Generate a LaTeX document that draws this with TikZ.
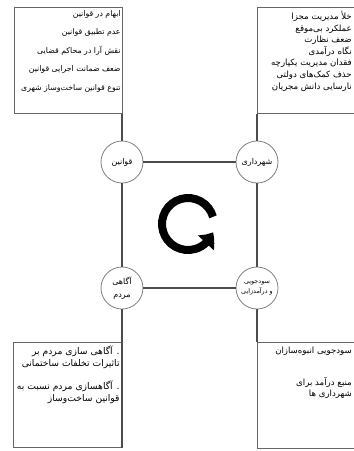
\documentclass[tikz,border=0pt]{standalone}
\usepackage{fontspec}
\newfontfamily\fa[Script=Arabic]{DejaVu Sans}
\TeXXeTstate=1
\usetikzlibrary{arrows.meta,bending}
\newcommand{\rl}[1]{\beginR #1\endR}
\tikzset{
	factor/.style={circle, draw=black!50, line width=0.8pt, fill=white,
			minimum size=42pt, inner sep=0pt, align=center,
			font=\fa\fontsize{8}{10}\selectfont},
	listbox/.style={draw=black!60, line width=0.8pt, inner sep=0pt, anchor=north west},
	listtext/.style={inner sep=0pt, align=right, anchor=north east},
	link/.style={draw=black!70, line width=1.2pt}
}

\begin{document}
\begin{tikzpicture}[x=1pt,y=-1pt]
	\clip (0,0) rectangle (354,451);
	\fill[white] (0,0) rectangle (354,451);

	% the four boxes
	\node[listbox, minimum width=108pt, minimum height=106pt] (qbox) at (14,7) {};
	\node[listbox, minimum width=150pt, minimum height=106pt] (sbox) at (257,7) {};
	\node[listbox, minimum width=109pt, minimum height=105pt] (abox) at (13,342) {};
	\node[listbox, minimum width=150pt, minimum height=106pt] (dbox) at (257,342) {};

	\node[listtext, font=\fa\fontsize{7.8}{18.5}\selectfont] (qtext) at ([shift={(-2,3)}]qbox.north east) {
		\rl{ابهام در قوانین}\\
		\rl{عدم تطبیق قوانین}\\
		\rl{نقش آرا در محاکم قضایی}\\
		\rl{ضعف ضمانت اجرایی قوانین}\\
		\rl{تنوع قوانین ساخت‌وساز شهری}};
	\node[listtext, font=\fa\fontsize{8.6}{11.6}\selectfont] (stext) at (352,11) {
		\rl{خلأ مدیریت مجزا}\\
		\rl{عملکرد بی‌موقع}\\
		\rl{ضعف نظارت}\\
		\rl{نگاه درآمدی}\\
		\rl{فقدان مدیریت یکپارچه}\\
		\rl{حذف کمک‌های دولتی}\\
		\rl{نارسایی دانش مجریان}};
	\node[listtext, font=\fa\fontsize{9.2}{12}\selectfont] (atext) at ([shift={(-3,4)}]abox.north east) {
		\rl{. آگاهی سازی مردم بر}\\
		\rl{تاثیرات تخلفات ساختمانی}\\[11pt]
		\rl{. آگاهسازی مردم نسبت به}\\
		\rl{قوانین ساخت‌وساز}};
	\node[listtext, font=\fa\fontsize{8.6}{11}\selectfont] (dtext) at (352,347) {
		\rl{سودجویی انبوه‌سازان}\\[21pt]
		\rl{منبع درآمد برای}\\
		\rl{شهرداری ها}\hspace{4pt}};

	% the factors
	\node[factor] (qavanin) at (122,162) {\rl{قوانین}};
	\node[factor] (shahrdari) at (257,162) {\rl{شهرداری}};
	\node[factor, font=\fa\fontsize{8}{13}\selectfont] (agahi) at (122,288) {\rl{آگاهی}\\\rl{مردم}};
	\node[factor, font=\fa\fontsize{6.4}{10}\selectfont] (sudjuyi) at (257,288) {\rl{سودجویی}\\\rl{و درآمدزایی}};

	\draw[link] (qavanin) -- (shahrdari);
	\draw[link] (shahrdari) -- (sudjuyi);
	\draw[link] (sudjuyi) -- (agahi);
	\draw[link] (agahi) -- (qavanin);

	\draw[link] (qavanin) -- (qavanin |- qbox.south);
	\draw[link] (shahrdari) -- (shahrdari |- sbox.south);
	\draw[link] (agahi) -- (agahi |- abox.south);
	\draw[link] (sudjuyi) -- (sudjuyi |- dbox.north);

	% cycle sign
	\coordinate (cyc) at (188,224);
	\draw[line width=8pt, -{Triangle[width=21pt,length=13pt,bend]}]
		(cyc) ++(-16:26) arc[start angle=-16, end angle=-342, radius=26];
\end{tikzpicture}
\end{document}
